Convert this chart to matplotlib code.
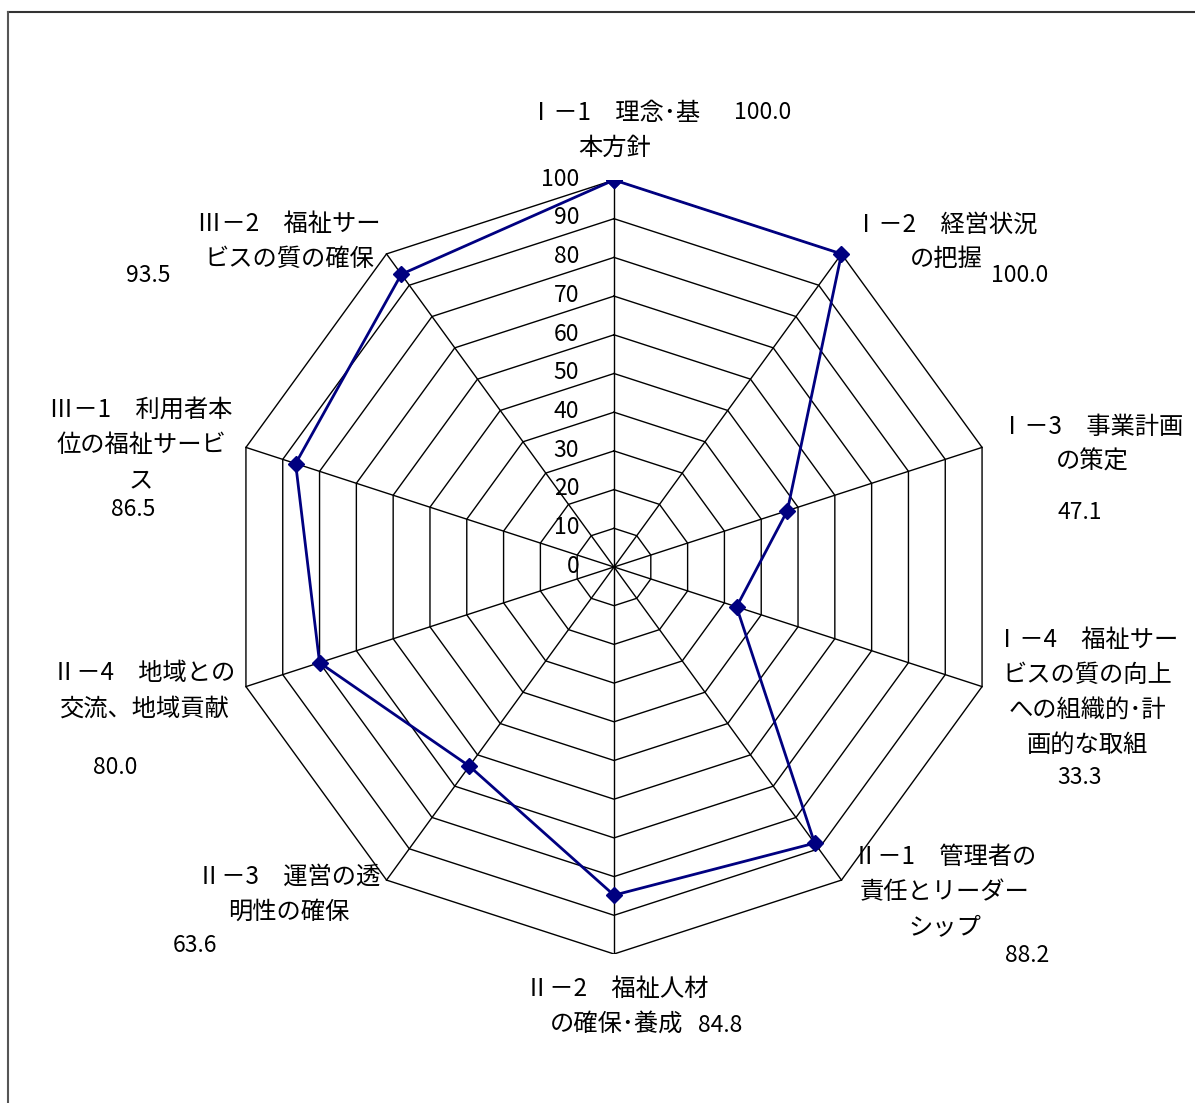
import numpy as np
import matplotlib
matplotlib.use("Agg")
import matplotlib.pyplot as plt
from matplotlib.lines import Line2D

plt.rcParams['font.family'] = ['Noto Sans CJK JP', 'DejaVu Sans']

# ---- data ----
categories = [
    "Ⅰ－1　理念･基\n本方針",
    "Ⅰ－2　経営状況\nの把握",
    "Ⅰ－3　事業計画\nの策定",
    "Ⅰ－4　福祉サー\nビスの質の向上\nへの組織的･計\n画的な取組",
    "Ⅱ－1　管理者の\n責任とリーダー\nシップ",
    "Ⅱ－2　福祉人材\nの確保･養成",
    "Ⅱ－3　運営の透\n明性の確保",
    "Ⅱ－4　地域との\n交流、地域貢献",
    "Ⅲ－1　利用者本\n位の福祉サービ\nス",
    "Ⅲ－2　福祉サー\nビスの質の確保",
]
values = [100.0, 100.0, 47.1, 33.3, 88.2, 84.8, 63.6, 80.0, 86.5, 93.5]
ring_levels = [10, 20, 30, 40, 50, 60, 70, 80, 90, 100]
tick_labels = ["0", "10", "20", "30", "40", "50", "60", "70", "80", "90", "100"]

# ---- layout (pixels) ----
W, H = 1195, 1103
cx, cy, R = 614, 567, 387
LINE = 35
name_pos = [(615, 130), (946, 242), (1092, 444), (1087, 692), (945, 892),
            (617, 1006), (289, 894), (144, 691), (141, 445), (289, 241)]
value_pos = [(763, 112), (1020, 275), (1080, 513), (1080, 777), (1027, 956),
             (720, 1025), (195, 945), (115, 767), (133, 509), (148, 275)]

fig = plt.figure(figsize=(W / 100, H / 100), dpi=100)
ax = fig.add_axes([(cx - R) / W, (H - cy - R) / H, 2 * R / W, 2 * R / H])
ax.set_xlim(-100, 100)
ax.set_ylim(-100, 100)
ax.axis('off')

n = len(values)
ang = np.deg2rad(90 - 360.0 / n * np.arange(n))
angc = np.append(ang, ang[0])

# grid rings
for r in ring_levels:
    ax.plot(r * np.cos(angc), r * np.sin(angc), color='black', lw=1.0, zorder=1)
# spokes
for a in ang:
    ax.plot([0, 100 * np.cos(a)], [0, 100 * np.sin(a)], color='black', lw=1.0, zorder=1)

# data
v = np.array(values + [values[0]])
ax.plot(v * np.cos(angc), v * np.sin(angc), color='#000080', lw=2.0,
        marker='D', markersize=8.5, markerfacecolor='#000080',
        markeredgecolor='#000080', zorder=3)

# radial tick labels
for i, t in enumerate(tick_labels):
    r = i * 10
    ax.text(-9, r + 0.2, t, ha='right', va='center', fontsize=16.5, zorder=4)

# category labels (one text per line) and values
for name, (px, py) in zip(categories, name_pos):
    lines = name.split("\n")
    m = len(lines)
    for k, ln in enumerate(lines):
        y = py + (k - (m - 1) / 2) * LINE
        fig.text(px / W, 1 - y / H, ln, ha='center', va='center', fontsize=17.5)
for val, (px, py) in zip(values, value_pos):
    fig.text(px / W, 1 - py / H, f"{val:.1f}", ha='center', va='center',
             fontsize=16.5)

# chart area border (top & left visible)
fig.add_artist(Line2D([8 / W, 1.0], [1 - 12 / H, 1 - 12 / H],
                      transform=fig.transFigure, color='#333333', lw=1.5))
fig.add_artist(Line2D([8 / W, 8 / W], [1 - 12 / H, 0.0],
                      transform=fig.transFigure, color='#555555', lw=1.5))

fig.savefig("out.png", dpi=100, facecolor='white')
